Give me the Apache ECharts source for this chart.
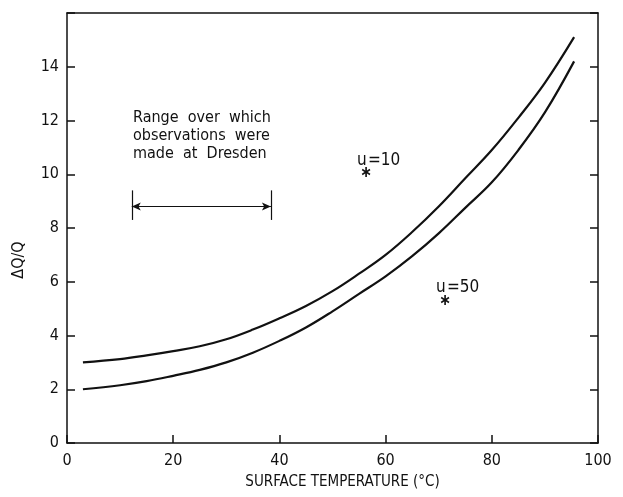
<!DOCTYPE html>
<html>
<head>
<meta charset="utf-8">
<script src="https://cdn.jsdelivr.net/npm/echarts@6/dist/echarts.min.js"></script>
<style>
  html, body { margin: 0; padding: 0; background: #fff; }
  #main { width: 623px; height: 497px; }
</style>
</head>
<body>
<div id="main"></div>
<script>
var myChart = echarts.init(document.getElementById('main'));

// surface temperature (°C) and ΔQ/Q
var tempU10 = [3, 10, 15, 20, 25, 30, 35, 40, 45, 50, 55, 60, 65, 70, 75, 80, 85, 90, 95.5];
var dqU10   = [3.0, 3.12, 3.26, 3.42, 3.6, 3.86, 4.22, 4.64, 5.1, 5.65, 6.3, 7.0, 7.85, 8.8, 9.85, 10.9, 12.1, 13.4, 15.1];
var tempU50 = [3, 10, 15, 20, 25, 30, 35, 40, 45, 50, 55, 60, 65, 70, 75, 80, 85, 90, 95.5];
var dqU50   = [2.0, 2.15, 2.3, 2.5, 2.72, 3.0, 3.36, 3.8, 4.3, 4.9, 5.55, 6.2, 6.95, 7.8, 8.75, 9.7, 10.9, 12.3, 14.2];

// observation range at Dresden (temperature span, drawn at this ΔQ/Q level)
var rangeTemps = [12.2, 38.4];
var rangeLevel = 8.8;

// curve labels
var curveLabels = [
    { name: '10', value: [54.6, 10.3] },
    { name: '50', value: [69.5, 5.55] }
];

function pairs(xs, ys) {
    var res = [];
    for (var i = 0; i < xs.length; i++) {
        res.push([xs[i], ys[i]]);
    }
    return res;
}

var FONT = 'DejaVu Sans Condensed';
var lineCol = '#111';

option = {
    backgroundColor: '#fff',
    animation: false,
    grid: { left: 67, right: 25, top: 13, bottom: 54 },
    textStyle: { fontFamily: FONT, color: lineCol },
    xAxis: [{
        type: 'value',
        min: 0, max: 100, interval: 20,
        name: 'SURFACE TEMPERATURE (°C)',
        nameLocation: 'middle',
        nameGap: 32,
        nameTextStyle: { fontSize: 15, fontFamily: FONT, color: lineCol, padding: [0, 0, 0, 20] },
        axisLine: { onZero: false, lineStyle: { color: lineCol, width: 1.5 } },
        axisTick: { inside: true, length: 8, lineStyle: { color: lineCol, width: 1.5 } },
        axisLabel: { fontSize: 16, color: lineCol, margin: 10, fontFamily: FONT },
        splitLine: { show: false }
    }, {
        type: 'value',
        position: 'top',
        min: 0, max: 100, interval: 20,
        axisLine: { show: true, onZero: false, lineStyle: { color: lineCol, width: 1.5 } },
        axisTick: { show: false },
        axisLabel: { show: false },
        splitLine: { show: false }
    }],
    yAxis: [{
        type: 'value',
        position: 'left',
        min: 0, max: 16, interval: 2,
        name: 'ΔQ/Q',
        nameLocation: 'middle',
        nameGap: 40,
        nameRotate: 90,
        nameTextStyle: { fontSize: 16, fontFamily: FONT, color: lineCol, padding: [0, 64, 0, 0] },
        axisLine: { onZero: false, lineStyle: { color: lineCol, width: 1.5 } },
        axisTick: { inside: true, length: 8, lineStyle: { color: lineCol, width: 1.5 } },
        axisLabel: {
            fontSize: 16, color: lineCol, margin: 8, fontFamily: FONT,
            formatter: function (v) { return v === 16 ? '' : v; }
        },
        splitLine: { show: false }
    }, {
        type: 'value',
        position: 'right',
        min: 0, max: 16, interval: 2,
        axisLine: { show: true, onZero: false, lineStyle: { color: lineCol, width: 1.5 } },
        axisTick: { inside: true, length: 8, lineStyle: { color: lineCol, width: 1.5 } },
        axisLabel: { show: false },
        splitLine: { show: false }
    }],
    graphic: [{
        type: 'text',
        left: 133,
        top: 109,
        style: {
            text: 'Range  over  which\nobservations  were\nmade  at  Dresden',
            font: '16px "DejaVu Sans Condensed"',
            lineHeight: 18,
            fill: lineCol
        }
    }],
    series: [{
        name: 'u*=10',
        type: 'line',
        smooth: 0.4,
        symbol: 'none',
        data: pairs(tempU10, dqU10),
        lineStyle: { color: lineCol, width: 2.2 }
    }, {
        name: 'u*=50',
        type: 'line',
        smooth: 0.4,
        symbol: 'none',
        data: pairs(tempU50, dqU50),
        lineStyle: { color: lineCol, width: 2.2 }
    }, {
        name: 'range',
        type: 'line',
        data: [],
        markLine: {
            silent: true,
            symbol: 'none',
            label: { show: false },
            lineStyle: { color: lineCol, width: 1.2, type: 'solid' },
            data: [
                [{ coord: [rangeTemps[0], rangeLevel], symbol: 'arrow', symbolSize: [6, 9] },
                 { coord: [rangeTemps[1], rangeLevel], symbol: 'arrow', symbolSize: [6, 9] }],
                [{ coord: [rangeTemps[0], rangeLevel - 0.5] }, { coord: [rangeTemps[0], rangeLevel + 0.6] }],
                [{ coord: [rangeTemps[1], rangeLevel - 0.5] }, { coord: [rangeTemps[1], rangeLevel + 0.6] }]
            ]
        }
    }, {
        name: 'labels',
        type: 'scatter',
        symbolSize: 0,
        itemStyle: { opacity: 1, color: lineCol },
        data: curveLabels,
        label: {
            show: true,
            position: 'right',
            distance: 0,
            formatter: function (p) { return '{u|u}{s|∗}{e|=' + p.name + '}'; },
            rich: {
                u: { fontSize: 17, fontFamily: FONT, color: lineCol, lineHeight: 18, verticalAlign: 'top', width: 3 },
                s: { fontSize: 16, fontFamily: FONT, fontWeight: 'bold', color: lineCol, lineHeight: 29, verticalAlign: 'bottom', width: 8 },
                e: { fontSize: 17, fontFamily: FONT, color: lineCol, lineHeight: 18, verticalAlign: 'top' }
            }
        }
    }]
};

myChart.setOption(option);
</script>
</body>
</html>
